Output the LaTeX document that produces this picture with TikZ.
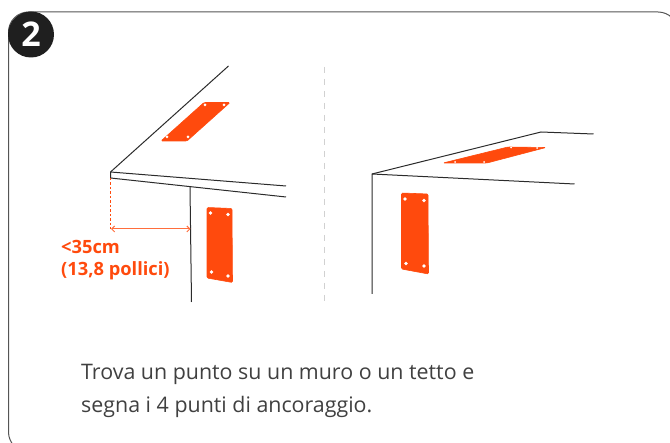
\documentclass[tikz,border=0pt]{standalone}
\usepackage{fontspec}
\setmainfont{Open Sans}
\usetikzlibrary{arrows.meta}
\definecolor{plate}{HTML}{FF4A0D}
\definecolor{ink}{HTML}{2B2B2B}
\tikzset{
  edge/.style={draw=ink,line width=1pt},
  plate/.style={fill=plate,draw=plate,line width=0.6pt,line join=round,rounded corners=1.2pt},
  hole/.style={fill=white,draw=none},
  orange/.style={text=plate,font=\bfseries\fontsize{18.3}{22}\selectfont,anchor=base west,inner sep=0pt},
  body/.style={text=ink!90,font=\fontsize{21.4}{33}\selectfont,anchor=base west,inner sep=0pt}
}
\begin{document}
\begin{tikzpicture}[x=1pt,y=-1pt]
\useasboundingbox (0,0) rectangle (670,443);
\clip (0,0) rectangle (670,443);
% card
\draw[draw=ink!80,line width=1pt,rounded corners=20pt] (8.5,12) rectangle (678,452);
% badge
\node[circle,fill=black!88,minimum size=46pt,inner sep=0pt,text=white,font=\bfseries\fontsize{34}{34}\selectfont] (badge) at (31,34.5) {2};
% divider
\draw[draw=black!18,line width=1pt,dash pattern=on 6pt off 6pt] (324.5,67) -- (324.5,305);
% left scene
\draw[edge] (228.5,66) -- (110.5,172) -- (110.5,178) -- (286,197);
\draw[edge] (110.5,172) -- (286,186);
\draw[edge] (190,187) -- (191.5,302);
\path[plate] (204,102.5) -- (230,102.5) -- (187,141) -- (161,141) -- cycle;
\fill[hole] (205,105) circle (1.5pt) (224,105) circle (1.5pt) (167,137) circle (1.5pt) (188,137) circle (1.5pt);
\path[plate] (207,207.5) -- (232,208.5) -- (232.5,282.5) -- (207,278) -- cycle;
\fill[hole] (210.5,213) circle (1.8pt) (228,214.5) circle (1.8pt) (211.5,272) circle (1.8pt) (228,276) circle (1.8pt);
\draw[draw=plate,line width=0.8pt,dash pattern=on 2.5pt off 2pt] (110.5,178) -- (110.5,229);
\draw[draw=plate!80,line width=1pt,{Straight Barb[length=3pt,width=6pt]}-{Straight Barb[length=3pt,width=6pt]}] (111,229) -- (190.5,229);
\node[orange] (lbla) at (61,254) {<35cm};
\node[orange] (lblb) at (61,276) {(13,8 pollici)};
% right scene
\draw[edge] (593.5,134) -- (541,132) -- (372,174) -- (372,294);
\draw[edge] (372,174) -- (574.5,184);
\path[plate] (508,147) -- (546,147.5) -- (487,163) -- (443,163) -- cycle;
\fill[hole] (511,147.5) circle (1pt) (537,148) circle (1pt) (484,162) circle (1pt) (455,162) circle (1pt);
\path[plate] (401.5,193) -- (428,194) -- (428.5,274) -- (401.5,269) -- cycle;
\fill[hole] (405,199) circle (1.8pt) (424,200.5) circle (1.8pt) (406,263.5) circle (1.8pt) (424,266) circle (1.8pt);
% caption
\node[body] (capa) at (81,380) {Trova un punto su un muro o un tetto e};
\node[body] (capb) at (81,413) {segna i 4 punti di ancoraggio.};
\end{tikzpicture}
\end{document}
